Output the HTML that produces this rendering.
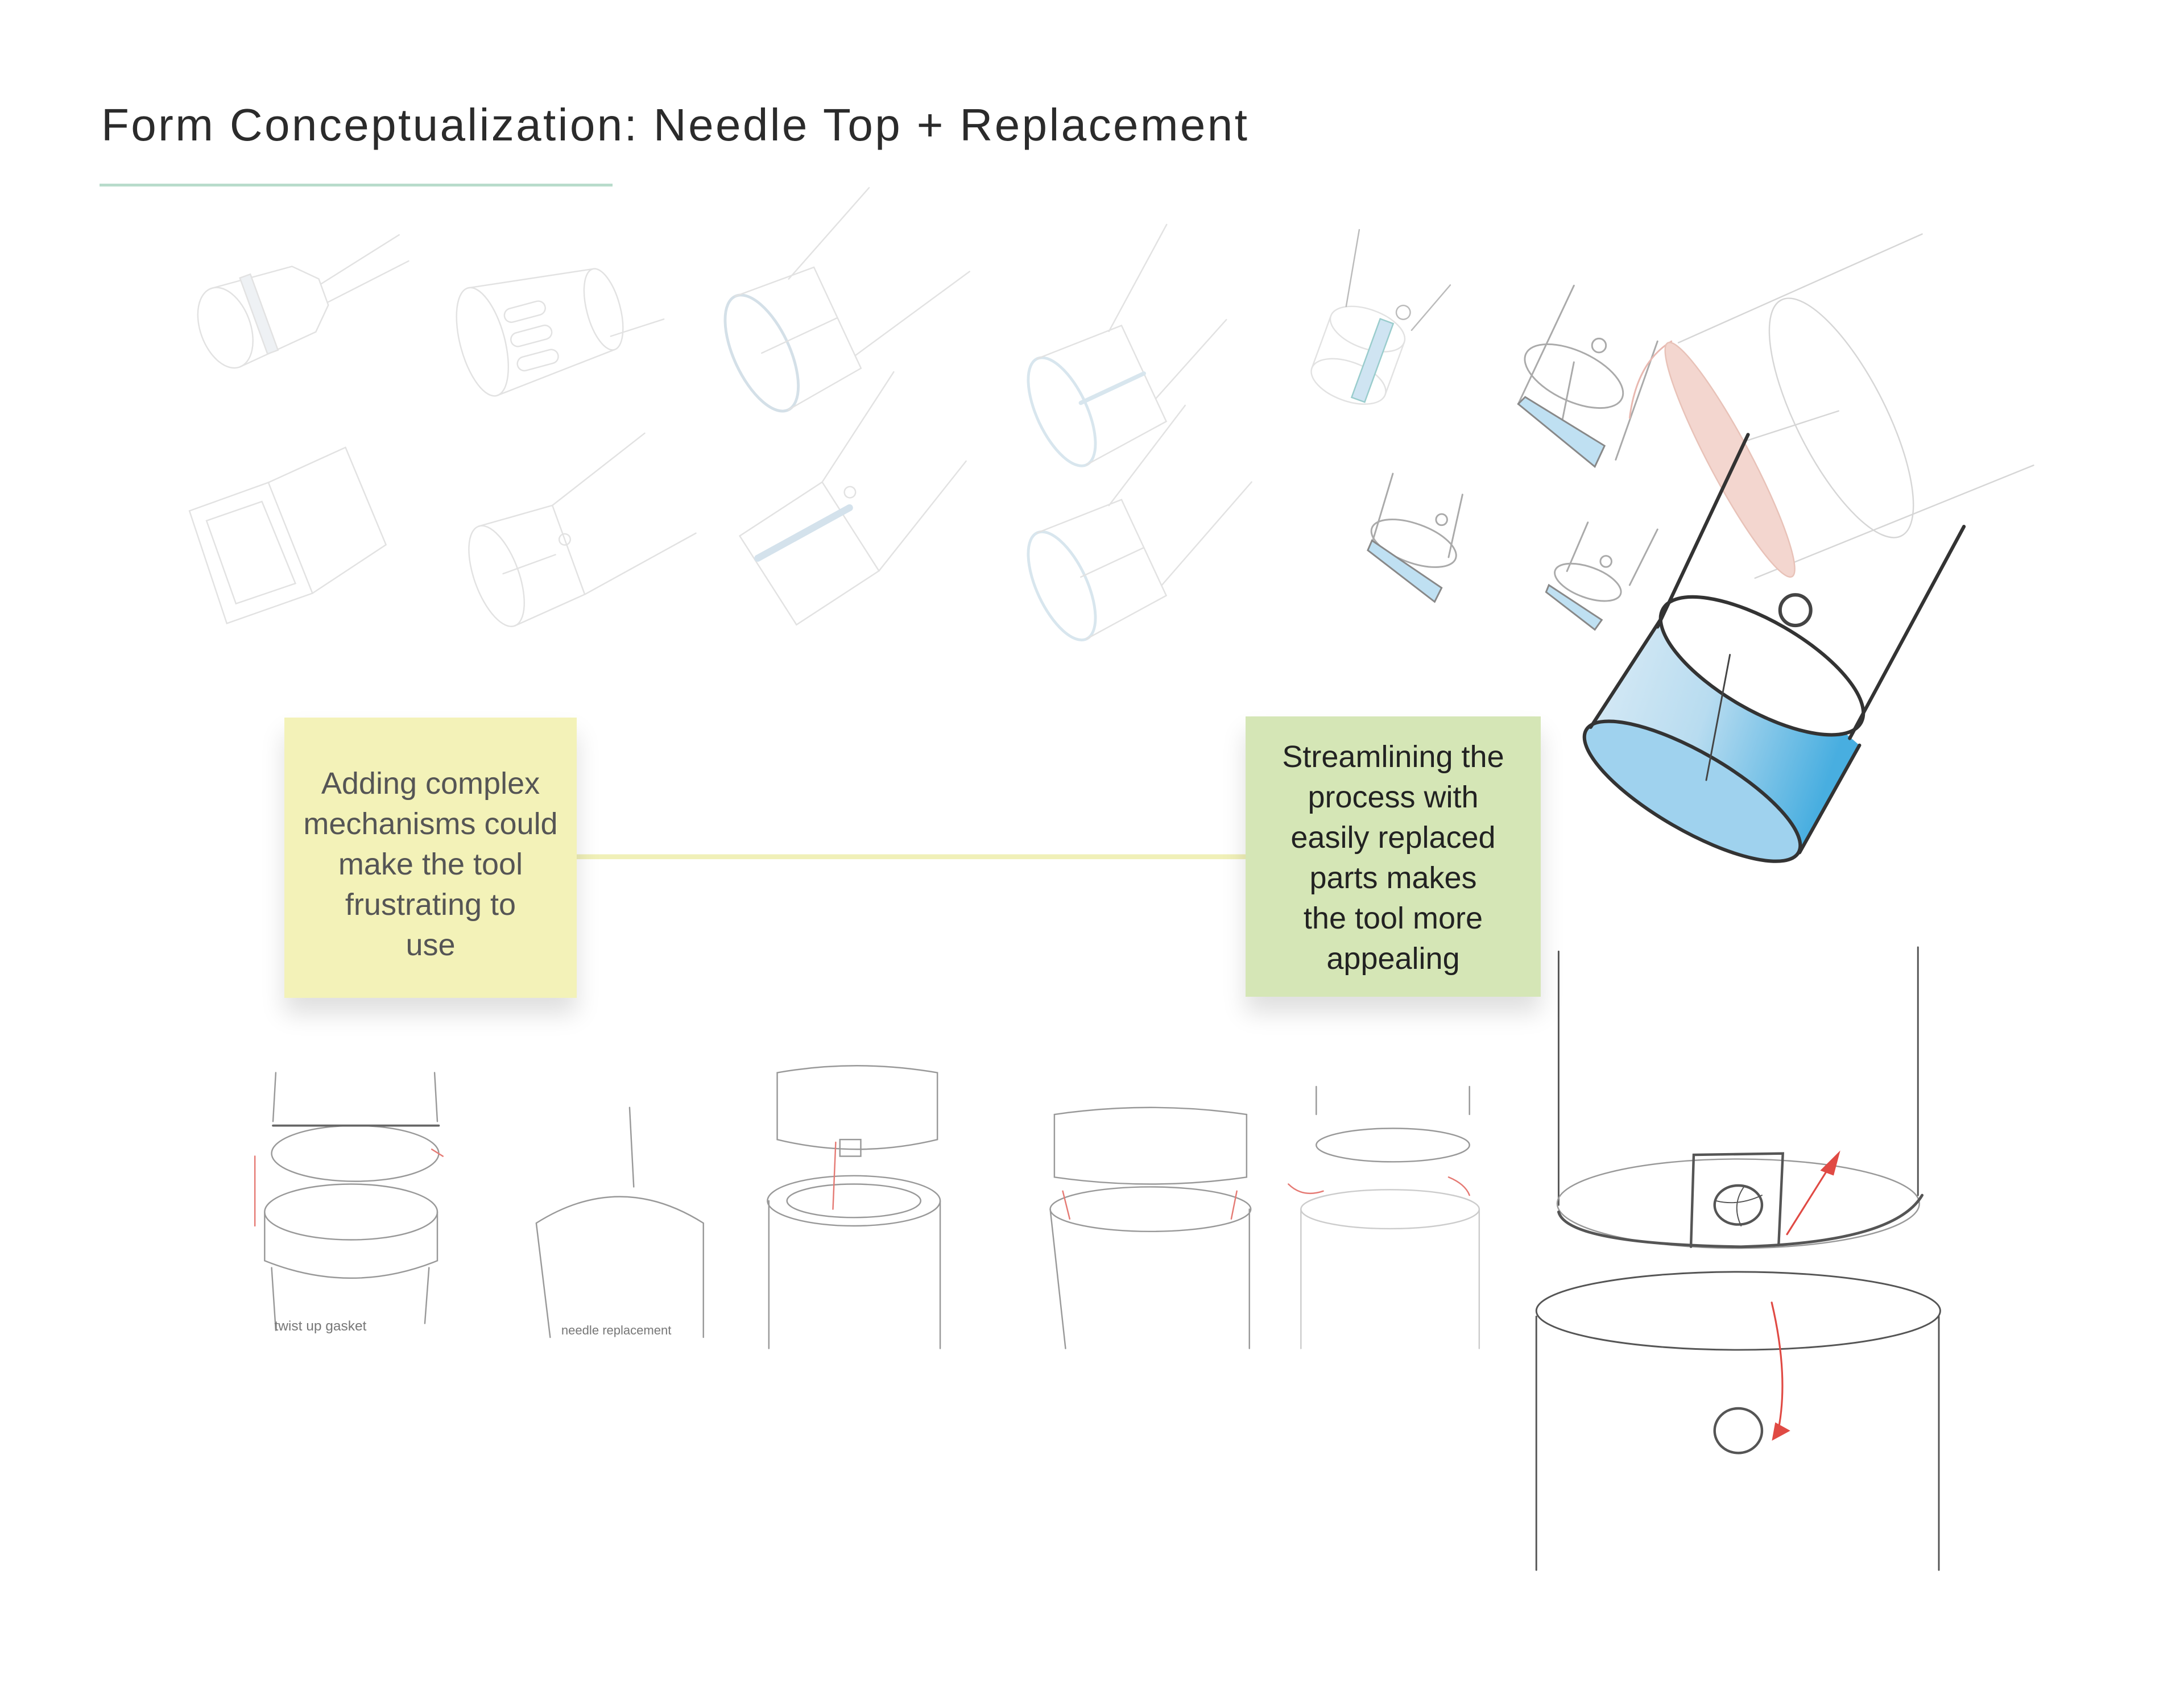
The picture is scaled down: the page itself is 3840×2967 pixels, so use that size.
<!DOCTYPE html>
<html><head><meta charset="utf-8"><style>
html,body{margin:0;padding:0;background:#fff;}
body{width:3840px;height:2967px;position:relative;overflow:hidden;font-family:"Liberation Sans",sans-serif;}
.title{position:absolute;left:178px;top:174px;font-size:80px;color:#2b2b2b;white-space:nowrap;letter-spacing:3.4px;}
.rule{position:absolute;left:175px;top:323px;width:902px;height:5px;background:#b8dccb;}
.note{position:absolute;display:flex;align-items:center;justify-content:center;text-align:center;font-size:54px;line-height:71px;box-shadow:0 28px 40px rgba(0,0,0,0.13);box-sizing:border-box;padding-top:24px;}
.y{left:500px;top:1262px;width:514px;height:493px;background:#f3f2b8;color:#555;}
.g{left:2190px;top:1260px;width:519px;height:493px;background:#d5e6b6;color:#222;padding-top:4px;}
svg{position:absolute;left:0;top:0;}
</style></head><body>
<svg width="3840" height="2967" viewBox="0 0 1568 1211" preserveAspectRatio="none" fill="none" stroke-linecap="round">
<line x1="414" y1="615" x2="894" y2="615" stroke="#f0f0b8" stroke-width="3.5"/>
<g stroke="#e2e2e2" stroke-width="1">
<g transform="translate(190,225) rotate(-20)"><ellipse cx="-30" cy="0" rx="18" ry="30"/><path d="M-30,-30 L30,-25 L45,-10 L45,10 L30,25 L-30,30"/><line x1="45" y1="-6" x2="110" y2="-20"/><line x1="45" y1="8" x2="110" y2="0"/><rect x="-8" y="-30" width="8" height="58" fill="#eef1f4"/></g>
<g transform="translate(385,235) rotate(-15)"><ellipse cx="-40" cy="0" rx="16" ry="40"/><ellipse cx="50" cy="0" rx="12" ry="30"/><path d="M-40,-40 L50,-30 M-40,40 L50,30"/><rect x="-20" y="-18" width="30" height="10" rx="5"/><rect x="-20" y="0" width="30" height="10" rx="5"/><rect x="-20" y="18" width="30" height="10" rx="5"/><line x1="50" y1="20" x2="90" y2="18"/></g>
<g transform="translate(565,245) rotate(-25)"><ellipse cx="-20" cy="0" rx="20" ry="45" stroke="#d4e0e8" stroke-width="2"/><path d="M-20,-45 L40,-40 L40,40 L-20,45"/><line x1="20" y1="-40" x2="100" y2="-75"/><line x1="40" y1="30" x2="140" y2="10"/><line x1="-20" y1="0" x2="40" y2="0"/></g>
<g transform="translate(785,285) rotate(-25)"><ellipse cx="-25" cy="0" rx="18" ry="42" stroke="#d8e6ee" stroke-width="2"/><path d="M-25,-42 L40,-38 L40,38 L-25,42"/><line x1="30" y1="-38" x2="100" y2="-90"/><line x1="40" y1="20" x2="110" y2="-10"/><line x1="-10" y1="0" x2="40" y2="0" stroke="#d8e6ee" stroke-width="3"/></g>
<g transform="translate(975,255) rotate(20)"><ellipse cx="0" cy="-20" rx="28" ry="14"/><path d="M-28,-20 L-28,20 M28,-20 L28,20"/><ellipse cx="0" cy="20" rx="28" ry="14"/><line x1="-20" y1="-30" x2="-30" y2="-85" stroke="#bbb"/><line x1="30" y1="-30" x2="45" y2="-70" stroke="#bbb"/><circle cx="20" cy="-40" r="5" stroke="#bbb"/><rect x="6" y="-30" width="10" height="60" fill="#cfe4f2" stroke="#9cc"/></g>
</g>
<g stroke="#aaa" stroke-width="1.2">
<path d="M1130,205 L1090,290 M1190,245 L1160,330"/>
<ellipse cx="1130" cy="270" rx="38" ry="18" transform="rotate(25 1130 270)"/>
<line x1="1130" y1="260" x2="1120" y2="310"/>
<circle cx="1148" cy="248" r="5"/>
<path d="M1090,290 L1145,335 L1152,320 L1095,285 Z" fill="#bfe0f2" stroke="#888"/>
<path d="M1200,245 Q1175,260 1170,300" stroke="#e8b8b0"/>
</g>
<g stroke="#e2e2e2" stroke-width="1">
<g transform="translate(185,395) rotate(-15)"><path d="M-40,-40 L20,-45 L30,40 L-35,45 Z"/><path d="M-30,-30 L12,-33 L20,30 L-25,33 Z"/><path d="M20,-45 L80,-55 L90,20 L30,40"/></g>
<g transform="translate(380,405) rotate(-20)"><ellipse cx="-25" cy="0" rx="16" ry="38"/><path d="M-25,-38 L30,-34 L30,34 L-25,38"/><line x1="30" y1="-34" x2="110" y2="-60"/><line x1="30" y1="34" x2="120" y2="20"/><circle cx="30" cy="-8" r="4"/><line x1="-20" y1="0" x2="20" y2="0"/></g>
<g transform="translate(580,395) rotate(-25)"><path d="M-40,-30 L30,-40 L40,35 L-30,45 Z"/><line x1="-35" y1="-10" x2="40" y2="-15" stroke="#d4e2ec" stroke-width="5"/><line x1="30" y1="-40" x2="110" y2="-90"/><line x1="40" y1="35" x2="130" y2="-10"/><circle cx="45" cy="-25" r="4"/></g>
<g transform="translate(785,410) rotate(-25)"><ellipse cx="-25" cy="0" rx="18" ry="42" stroke="#d8e6ee" stroke-width="2"/><path d="M-25,-42 L40,-38 L40,38 L-25,42"/><line x1="30" y1="-38" x2="110" y2="-80"/><line x1="40" y1="30" x2="130" y2="-10"/><line x1="-10" y1="0" x2="40" y2="0"/></g>
</g>
<g stroke="#aaa" stroke-width="1.2">
<path d="M1000,340 L985,390 M1050,355 L1040,400"/>
<ellipse cx="1015" cy="390" rx="32" ry="14" transform="rotate(20 1015 390)"/>
<circle cx="1035" cy="373" r="4"/>
<path d="M982,395 L1030,432 L1035,422 L985,388 Z" fill="#bfe0f2" stroke="#888"/>
<path d="M1140,375 L1125,410 M1190,380 L1170,420"/>
<ellipse cx="1140" cy="418" rx="25" ry="11" transform="rotate(20 1140 418)"/>
<circle cx="1153" cy="403" r="4"/>
<path d="M1110,425 L1145,452 L1150,445 L1112,420 Z" fill="#bfe0f2" stroke="#888"/>
</g>
<g stroke="#d6d6d6" stroke-width="1">
<line x1="1205" y1="246" x2="1380" y2="168"/>
<line x1="1260" y1="415" x2="1460" y2="334"/>
<ellipse cx="1322" cy="300" rx="95" ry="32" transform="rotate(63 1322 300)"/>
<line x1="1255" y1="316" x2="1320" y2="295"/>
</g>
<ellipse cx="1242" cy="330" rx="95" ry="15" transform="rotate(62 1242 330)" fill="#f3d6cf" stroke="#e8c2b8"/>
<defs><linearGradient id="bl" x1="0" y1="0" x2="1" y2="0.3"><stop offset="0" stop-color="#dcecf6"/><stop offset="0.5" stop-color="#b8dcf0"/><stop offset="1" stop-color="#48aee0"/></linearGradient></defs>
<path d="M1142,522 L1192,445 Q1260,470 1335,535 L1292,612 Q1200,590 1142,522 Z" fill="url(#bl)"/>
<ellipse cx="1215" cy="568" rx="88" ry="28" transform="rotate(30 1215 568)" fill="#9fd2ee" stroke="#333" stroke-width="2.5"/>
<path d="M1142,522 L1192,445 M1335,535 L1292,612" stroke="#333" stroke-width="2.5"/>
<ellipse cx="1265" cy="478" rx="82" ry="32" transform="rotate(30 1265 478)" fill="#fff" stroke="#333" stroke-width="2.5"/>
<path d="M1255,312 L1190,450 M1410,378 L1328,530" stroke="#333" stroke-width="2.5"/>
<circle cx="1289" cy="438" r="11" stroke="#444" stroke-width="2.5"/>
<line x1="1242" y1="470" x2="1225" y2="560" stroke="#444" stroke-width="1.2"/>
<g stroke="#999" stroke-width="1">
<path d="M198,770 L196,805 M312,770 L314,805"/>
<ellipse cx="255" cy="828" rx="60" ry="20"/>
<line x1="196" y1="808" x2="315" y2="808" stroke="#666" stroke-width="1.5"/>
<ellipse cx="252" cy="870" rx="62" ry="20"/>
<path d="M190,870 L190,905 Q252,930 314,905 L314,870"/>
<path d="M195,910 L198,955 M308,910 L305,950"/>
<path d="M183,880 L183,830" stroke="#e57a74"/>
<text x="197" y="955" font-size="10" fill="#777" stroke="none" font-family="Liberation Sans">twist up gasket</text>
<path d="M385,878 Q445,840 505,878 L505,960 M385,878 L395,960"/>
<line x1="455" y1="852" x2="452" y2="795"/>
<text x="403" y="958" font-size="9" fill="#777" stroke="none" font-family="Liberation Sans">needle replacement</text>
<path d="M558,770 Q615,760 673,770 L673,818 Q615,832 558,818 Z"/>
<ellipse cx="613" cy="862" rx="62" ry="18"/>
<ellipse cx="613" cy="862" rx="48" ry="12"/>
<path d="M552,862 L552,968 M675,862 L675,968"/>
<rect x="603" y="818" width="15" height="12"/>
<path d="M757,800 Q826,790 895,800 L895,845 Q826,855 757,845 Z"/>
<ellipse cx="826" cy="868" rx="72" ry="16"/>
<path d="M754,868 L765,968 M897,868 L897,968"/>
<path d="M945,780 L945,800 M1055,780 L1055,800"/>
<ellipse cx="1000" cy="822" rx="55" ry="12"/>
<ellipse cx="998" cy="868" rx="64" ry="14" stroke="#ccc"/>
<path d="M934,868 L934,968 M1062,868 L1062,968" stroke="#ccc"/>
</g>
<g stroke="#e57a74" stroke-width="1"><path d="M600,820 L598,868 M763,855 L768,875 M888,855 L884,875 M925,850 Q935,860 950,855 M1040,845 Q1052,850 1055,858 M310,825 L318,830"/></g>
<g stroke="#555" stroke-width="1.2">
<line x1="1119" y1="683" x2="1119" y2="865"/>
<line x1="1377" y1="680" x2="1377" y2="858"/>
<ellipse cx="1248" cy="864" rx="130" ry="32" stroke="#999" stroke-width="1"/>
<path d="M1119,870 Q1125,893 1250,895 Q1360,892 1380,858" stroke-width="2"/>
<path d="M1214,895 L1216,829 L1280,828 L1277,893" stroke-width="1.8"/>
<ellipse cx="1248" cy="865" rx="17" ry="14" stroke-width="1.8"/>
<path d="M1232,862 Q1248,866 1265,858 M1252,852 Q1243,865 1250,880" stroke-width="0.8"/>
<ellipse cx="1248" cy="941" rx="145" ry="28"/>
<line x1="1103" y1="945" x2="1103" y2="1127"/>
<line x1="1392" y1="945" x2="1392" y2="1127"/>
<ellipse cx="1248" cy="1027" rx="17" ry="16" stroke-width="1.8"/>
</g>
<g stroke="#e04a44" stroke-width="1.3" fill="#e04a44">
<line x1="1283" y1="886" x2="1315" y2="835"/>
<path d="M1320,828 L1308,840 L1316,843 Z"/>
<path d="M1272,935 Q1285,990 1276,1030" fill="none"/>
<path d="M1273,1033 L1284,1027 L1275,1022 Z"/>
</g>
</svg>
<div class="title">Form Conceptualization: Needle Top + Replacement</div>
<div class="rule"></div>
<div class="note y"><div>Adding complex<br>mechanisms could<br>make the tool<br>frustrating to<br>use</div></div>
<div class="note g"><div>Streamlining the<br>process with<br>easily replaced<br>parts makes<br>the tool more<br>appealing</div></div>
</body></html>
